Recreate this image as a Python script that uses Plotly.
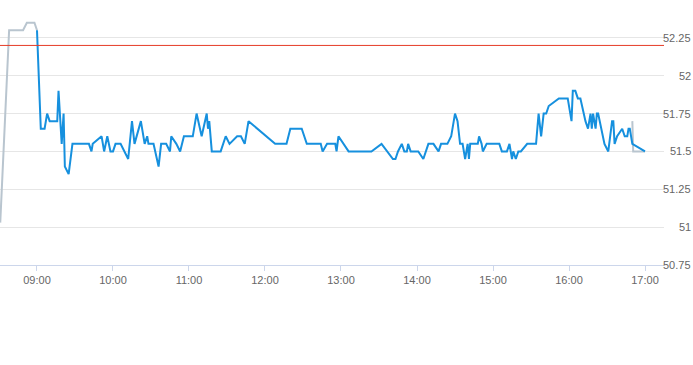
import plotly.graph_objects as go

DAY = "2024-01-02 "

# Regular session (blue)
reg_times = ["09:00", "09:03", "09:06", "09:08", "09:10", "09:16", "09:17", "09:19:30", "09:21", "09:22",
             "09:25", "09:28", "09:41", "09:43", "09:44", "09:51", "09:53", "09:55:30", "09:58", "10:00",
             "10:02", "10:06", "10:12", "10:15", "10:17", "10:22", "10:25", "10:27", "10:28", "10:32",
             "10:36", "10:38", "10:42", "10:45", "10:46", "10:50", "10:53", "10:56", "11:03", "11:06",
             "11:10", "11:14", "11:15", "11:16", "11:18", "11:25", "11:29", "11:32", "11:38", "11:41",
             "11:44", "11:47", "12:08", "12:17", "12:20", "12:29", "12:33", "12:44", "12:45:30", "12:49",
             "12:55:30", "12:56:30", "12:58", "13:06", "13:24", "13:32", "13:41", "13:43", "13:45", "13:48",
             "13:50", "13:52", "13:53", "13:55", "14:01", "14:05", "14:09", "14:13", "14:17", "14:19",
             "14:24", "14:27", "14:30", "14:32", "14:34", "14:36", "14:37", "14:38", "14:40", "14:41",
             "14:42", "14:48", "14:49", "14:51", "14:52", "14:55", "15:05", "15:07", "15:11", "15:13",
             "15:15", "15:16", "15:18", "15:20", "15:22", "15:27", "15:34", "15:36", "15:38", "15:40",
             "15:42", "15:44", "15:52", "15:59", "16:02", "16:03", "16:05", "16:07", "16:09", "16:13",
             "16:15", "16:17", "16:18", "16:19", "16:21", "16:22", "16:23", "16:28", "16:31", "16:34",
             "16:35", "16:36", "16:38", "16:42", "16:44", "16:46", "16:47", "16:48", "16:50", "17:00"]
reg_prices = [52.3, 51.65, 51.65, 51.75, 51.7, 51.7, 51.9, 51.55, 51.75, 51.4,
              51.35, 51.55, 51.55, 51.5, 51.55, 51.6, 51.5, 51.6, 51.5, 51.5,
              51.55, 51.55, 51.45, 51.7, 51.55, 51.7, 51.55, 51.6, 51.55, 51.55,
              51.4, 51.55, 51.55, 51.5, 51.6, 51.55, 51.5, 51.6, 51.6, 51.75,
              51.6, 51.75, 51.65, 51.7, 51.5, 51.5, 51.6, 51.55, 51.6, 51.6,
              51.55, 51.7, 51.55, 51.55, 51.65, 51.65, 51.55, 51.55, 51.5, 51.55,
              51.55, 51.5, 51.6, 51.5, 51.5, 51.55, 51.45, 51.45, 51.5, 51.55,
              51.5, 51.5, 51.55, 51.5, 51.5, 51.45, 51.55, 51.55, 51.5, 51.55,
              51.55, 51.6, 51.75, 51.7, 51.55, 51.55, 51.5, 51.45, 51.55, 51.45,
              51.55, 51.55, 51.6, 51.55, 51.5, 51.55, 51.55, 51.5, 51.5, 51.55,
              51.45, 51.5, 51.45, 51.5, 51.5, 51.55, 51.55, 51.75, 51.6, 51.75,
              51.75, 51.8, 51.85, 51.85, 51.7, 51.9, 51.9, 51.85, 51.85, 51.7,
              51.65, 51.75, 51.65, 51.75, 51.65, 51.75, 51.75, 51.55, 51.5, 51.7,
              51.7, 51.55, 51.6, 51.65, 51.6, 51.6, 51.65, 51.65, 51.55, 51.5]

# Pre-market and after-hours (grey)
pre_times = ["08:31", "08:38", "08:49", "08:52", "08:58", "09:00"]
pre_prices = [51.03, 52.3, 52.3, 52.35, 52.35, 52.3]
post_times = ["16:50", "16:50:40", "17:00"]
post_prices = [51.7, 51.5, 51.5]

prev_close = 52.2

y_ticks = [50.75, 51, 51.25, 51.5, 51.75, 52, 52.25]
y_tick_labels = ["50.75", "51", "51.25", "51.5", "51.75", "52", "52.25"]
x_ticks = ["09:00", "10:00", "11:00", "12:00", "13:00", "14:00", "15:00", "16:00", "17:00"]


def ts(lst):
    return [DAY + t for t in lst]


fig = go.Figure()
fig.add_trace(go.Scatter(x=ts(pre_times), y=pre_prices, mode="lines",
                         line=dict(color="#b9c5cf", width=2), hoverinfo="skip"))
fig.add_trace(go.Scatter(x=ts(post_times), y=post_prices, mode="lines",
                         line=dict(color="#b9c5cf", width=2), hoverinfo="skip"))
fig.add_trace(go.Scatter(x=ts(reg_times), y=reg_prices, mode="lines",
                         line=dict(color="#1690de", width=2), hoverinfo="skip"))

fig.add_shape(type="line", xref="paper", x0=0, x1=1, yref="y", y0=prev_close, y1=prev_close,
              line=dict(color="#e63b26", width=1), layer="above")

for v, lab in zip(y_ticks, y_tick_labels):
    fig.add_annotation(x=1, xref="paper", y=v, yref="y", text=lab, showarrow=False,
                       xanchor="right", yanchor="middle", xshift=29,
                       font=dict(family="Liberation Sans, Arial", size=11, color="#666666"))

fig.update_layout(
    width=693, height=365,
    margin=dict(l=0, r=29, t=0, b=100),
    paper_bgcolor="white", plot_bgcolor="white",
    showlegend=False,
    font=dict(family="Liberation Sans, Arial", size=11, color="#666666"),
    xaxis=dict(
        type="date",
        range=[DAY + "08:30:48", DAY + "17:15:00"],
        tickvals=ts(x_ticks), tickformat="%H:%M",
        ticks="outside", ticklen=5, tickcolor="#ccd6eb",
        showline=True, linecolor="#ccd6eb", linewidth=1,
        showgrid=False, zeroline=False,
        tickfont=dict(family="Liberation Sans, Arial", size=11, color="#666666"),
    ),
    yaxis=dict(
        range=[50.75, 52.5],
        tickvals=y_ticks, showticklabels=False,
        showgrid=True, gridcolor="#e6e6e6", gridwidth=1,
        zeroline=False, showline=False, ticks="",
    ),
)

fig.write_html("out.html", config={"displayModeBar": False},
               post_script="document.body.style.margin='0';document.body.style.padding='0';")
